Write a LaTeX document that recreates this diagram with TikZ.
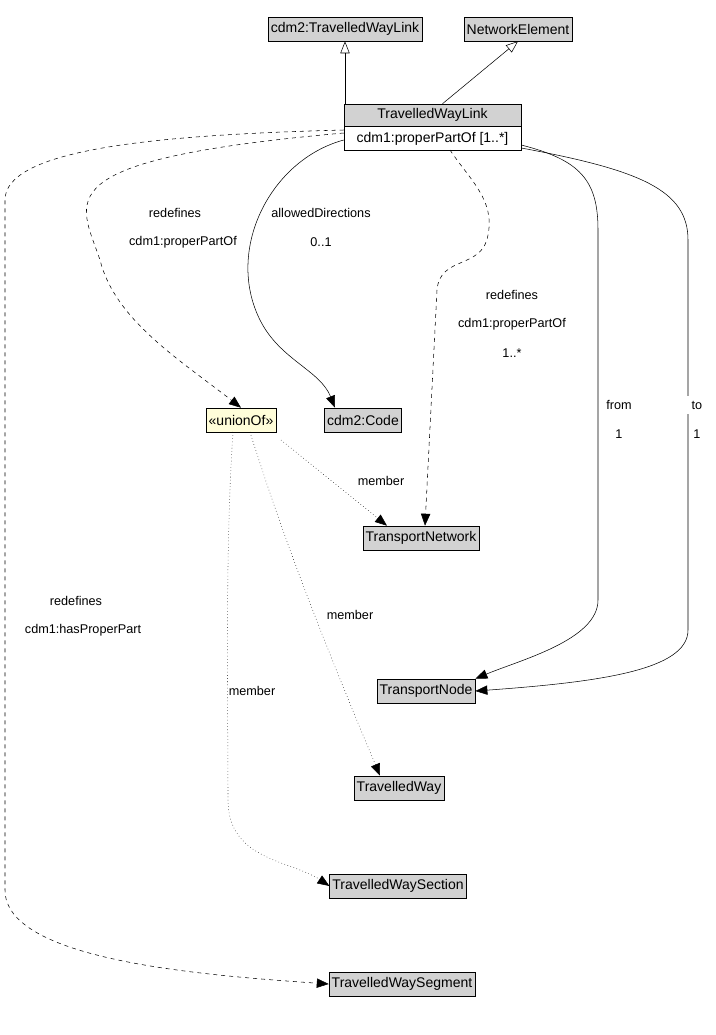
\documentclass[tikz,border=0pt]{standalone}
\usepackage{fontspec}
\setmainfont{Liberation Sans}
\usetikzlibrary{arrows.meta}
\begin{document}
\begin{tikzpicture}[x=0.75pt,y=-0.75pt,
 cls/.style={draw,fill=gray!35,font=\fontsize{10.5}{12}\selectfont,inner sep=2pt,minimum height=18pt},
 lbl/.style={font=\fontsize{9.5}{11}\selectfont},
 arr/.style={-{Triangle[length=9pt,width=7pt]}},
 gen/.style={-{Triangle[open,length=9pt,width=7pt]}}]
\useasboundingbox (0,0) rectangle (715,1035);
\node[cls] (sup1) at (345,29) {cdm2:TravelledWayLink};
\node[cls] (sup2) at (518,29) {NetworkElement};
\node[draw,fill=gray!35,minimum width=177*0.75pt,minimum height=22*0.75pt,inner sep=0pt,font=\fontsize{10.5}{12}\selectfont] (twl) at (432.5,115) {TravelledWayLink};
\node[draw,fill=white,minimum width=177*0.75pt,minimum height=24*0.75pt,inner sep=0pt,anchor=north,font=\fontsize{10.5}{12}\selectfont] (twlp) at (twl.south) {cdm1:properPartOf [1..*]};
\node[cls,fill=yellow!15] (u) at (241,420) {«unionOf»};
\node[cls] (code) at (363,420) {cdm2:Code};
\node[cls] (tn) at (421,538) {TransportNetwork};
\node[cls] (tnode) at (426,691) {TransportNode};
\node[cls] (tw) at (399,788) {TravelledWay};
\node[cls] (tws) at (398,886) {TravelledWaySection};
\node[cls] (twseg) at (402,984) {TravelledWaySegment};
% generalizations
\draw[gen] (twl.north -| sup1) -- (sup1.south);
\draw[gen] ([xshift=7.5pt]twl.north) -- (sup2.south);
% dashed to unionOf
\draw[dashed,arr] (twlp.west |- 0,133) .. controls (40,160) and (80,200) .. (100,260) .. controls (115,320) and (180,360) .. (u.north);
\node[lbl] (l1) at (175,213) {redefines};
\node[lbl] (l2) at (183,242) {cdm1:properPartOf};
% allowed directions
\draw[arr] (twlp.west |- 0,140) .. controls (270,160) and (225,250) .. (260,320) .. controls (280,360) and (320,370) .. (code.north -| 335,0);
\node[lbl] (l3) at (321,213) {allowedDirections};
\node[lbl] (l4) at (321,242) {0..1};
% dashed to TransportNetwork
\draw[dashed,arr] (450,150) .. controls (470,180) and (495,200) .. (488,235) .. controls (482,270) and (440,255) .. (437,290) -- (tn.north -| 425,0);
\node[lbl] (l5) at (512,295) {redefines};
\node[lbl] (l6) at (512,324) {cdm1:properPartOf};
\node[lbl] (l7) at (512,353) {1..*};
% from
\draw[arr] (twlp.east |- 0,145) .. controls (580,160) and (598,180) .. (598,230) -- (598,600) .. controls (598,640) and (520,660) .. (tnode.north east);
\node[lbl,fill=white] (l8) at (619,405) {from};
\node[lbl,fill=white] (l9) at (619,434) {1};
% to
\draw[arr] (twlp.east |- 0,148) .. controls (640,170) and (688,190) .. (688,240) -- (688,630) .. controls (688,670) and (600,682) .. (tnode.east);
\node[lbl,fill=white] (l10) at (697,405) {to};
\node[lbl,fill=white] (l11) at (697,434) {1};
% big dashed
\draw[dashed,arr] (twl.west |- 0,130) .. controls (150,135) and (5,150) .. (5,200) -- (5,890) .. controls (5,960) and (200,975) .. (twseg.west);
\node[lbl,fill=white] (l12) at (76,601) {redefines};
\node[lbl,fill=white] (l13) at (83,630) {cdm1:hasProperPart};
% members
\draw[dotted,arr] (281,440) -- (tn.north -| 387,0);
\node[lbl] (m1) at (381,481) {member};
\draw[dotted,arr] (250,432) .. controls (290,560) and (340,680) .. (tw.north -| 380,0);
\node[lbl] (m2) at (350,615) {member};
\draw[dotted,arr] (233,432) .. controls (225,550) and (228,700) .. (228,800) .. controls (228,860) and (290,860) .. (tws.west);
\node[lbl] (m3) at (252,691) {member};
\end{tikzpicture}
\end{document}
